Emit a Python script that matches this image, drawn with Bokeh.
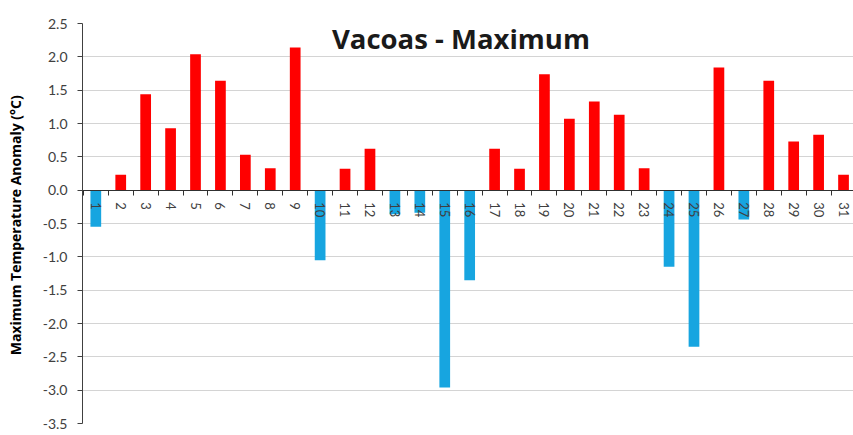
from bokeh.plotting import figure
from bokeh.models import (Range1d, LinearAxis, FixedTicker, NumeralTickFormatter,
                          Label, ColumnDataSource, Grid)
from bokeh.embed import file_html
from bokeh.resources import INLINE

# ---- data ----
days = list(range(1, 32))
anomaly = [-0.55, 0.23, 1.44, 0.93, 2.04, 1.64, 0.53, 0.33, 2.14, -1.05,
           0.32, 0.62, -0.36, -0.34, -2.96, -1.35, 0.62, 0.32, 1.74, 1.07,
           1.33, 1.13, 0.33, -1.15, -2.35, 1.84, -0.44, 1.64, 0.73, 0.83, 0.23]
y_ticks = [2.5, 2.0, 1.5, 1.0, 0.5, 0.0, -0.5, -1.0, -1.5, -2.0, -2.5, -3.0, -3.5]
day_labels = {d: str(d) for d in days}
title_text = "Vacoas - Maximum"
y_label = "Maximum  Temperature Anomaly (°C)"

RED = "#FF0000"
BLUE = "#17A5E0"
colors = [RED if v >= 0 else BLUE for v in anomaly]
source = ColumnDataSource(dict(x=days, top=anomaly, color=colors))

p = figure(width=853, height=435, output_backend="svg", toolbar_location=None,
           x_range=Range1d(0.466, 31.40), y_range=Range1d(-3.5, 2.5),
           x_axis_location=None, y_axis_location=None,
           min_border_left=82, min_border_right=0, min_border_top=23,
           min_border_bottom=12)
p.outline_line_color = None
p.background_fill_color = "white"
p.border_fill_color = "white"
for g in p.grid:
    g.visible = False

grid = Grid(dimension=1, ticker=FixedTicker(ticks=y_ticks),
            grid_line_color="#D4D4D4", grid_line_width=1)
p.add_layout(grid)

p.vbar(x="x", top="top", bottom=0, width=0.43, fill_color="color",
       line_color=None, source=source)

yaxis = LinearAxis(ticker=FixedTicker(ticks=y_ticks),
                   formatter=NumeralTickFormatter(format="0.0"),
                   axis_label=y_label,
                   axis_label_text_font="Open Sans",
                   axis_label_text_font_style="bold",
                   axis_label_text_font_size="14px",
                   axis_label_text_color="#000000",
                   axis_label_standoff=15,
                   major_label_text_font="Lato",
                   major_label_text_font_size="14px",
                   major_label_text_color="#404040",
                   major_label_standoff=10,
                   axis_line_color="#404040",
                   major_tick_line_color="#404040",
                   major_tick_out=5, major_tick_in=0,
                   minor_tick_out=0, minor_tick_in=0)
p.add_layout(yaxis, "left")

xaxis = LinearAxis(ticker=FixedTicker(ticks=days,
                                      minor_ticks=[d + 0.5 for d in [0] + days]),
                   major_label_overrides=day_labels,
                   fixed_location=0,
                   major_label_orientation="vertical",
                   major_label_text_font="Lato",
                   major_label_text_font_size="13px",
                   major_label_text_color="#404040",
                   major_label_standoff=7,
                   axis_line_color="#303030",
                   major_tick_out=0, major_tick_in=0,
                   minor_tick_out=5, minor_tick_in=0,
                   minor_tick_line_color="#303030")
p.add_layout(xaxis, "below")

title = Label(x=15.65, y=2.27, text=title_text, text_align="center",
              text_baseline="middle", text_font="Open Sans",
              text_font_style="bold", text_font_size="27.5px",
              text_color="#1A1A1A")
p.add_layout(title)

open("out.html", "w").write(file_html(p, INLINE))
